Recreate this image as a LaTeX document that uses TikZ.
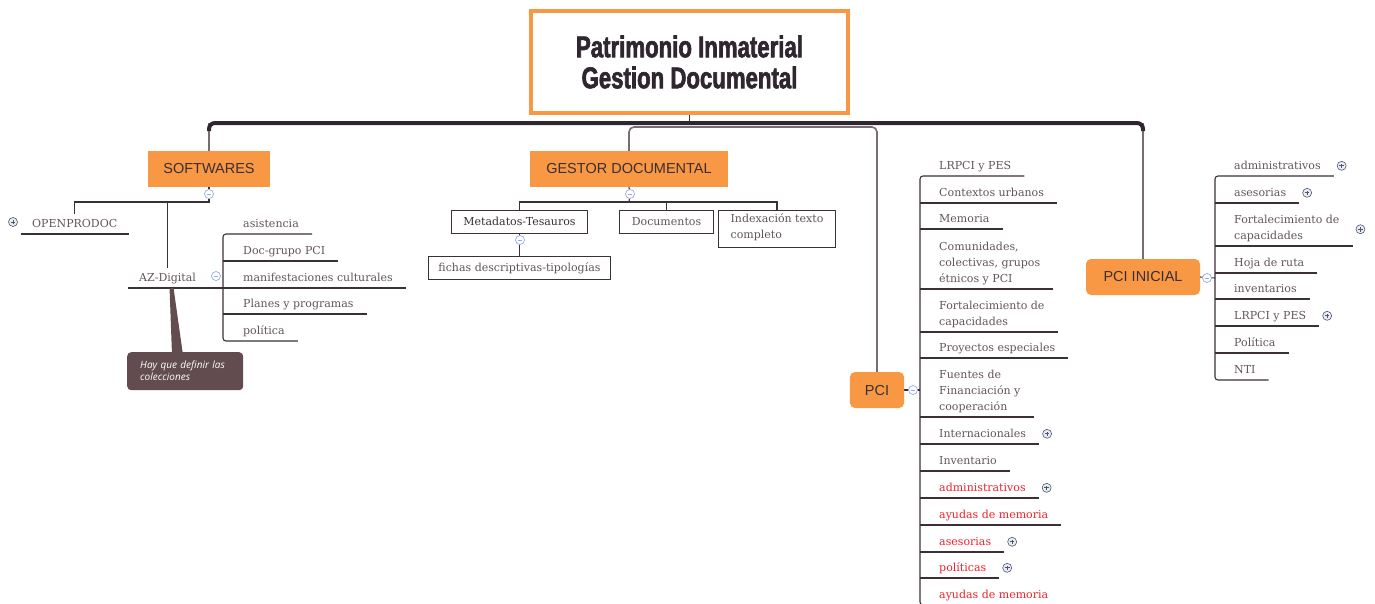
\documentclass[tikz,border=0pt]{standalone}
\usepackage{fontspec}
\setmainfont{DejaVu Serif}
\newfontfamily\boxfont{Liberation Sans}
\newfontfamily\titlefont{Liberation Sans}[FakeStretch=0.74, FakeBold=2]
\newfontfamily\notefont{Open Sans}
\usetikzlibrary{positioning, backgrounds}

\definecolor{boxOrange}{RGB}{248,152,68}
\definecolor{boxText}{RGB}{58,46,52}
\definecolor{itemGray}{RGB}{98,84,90}
\definecolor{alertRed}{RGB}{238,34,40}
\definecolor{lineDark}{RGB}{58,48,53}
\definecolor{lineGray}{RGB}{118,108,114}
\definecolor{trunkDark}{RGB}{47,38,48}
\definecolor{iconBlue}{RGB}{150,172,222}
\definecolor{iconGray}{RGB}{80,86,104}
\definecolor{iconFill}{RGB}{232,236,244}
\definecolor{noteBrown}{RGB}{98,76,80}

\begin{document}
\begin{tikzpicture}[
    x=1pt, y=-1pt,
    titleBox/.style={draw=boxOrange, line width=4pt, fill=white, minimum width=317pt, minimum height=102pt, align=center, text=trunkDark, font=\titlefont\bfseries\fontsize{30}{31}\selectfont}, % 中心主题
    orangeBox/.style={fill=boxOrange, text=boxText, inner xsep=15pt, minimum height=36pt, font=\boxfont\fontsize{14.5}{17}\selectfont}, % 一级分支
    roundBox/.style={orangeBox, rounded corners=5pt},
    topicItem/.style={anchor=south west, inner xsep=0pt, inner ysep=2pt, align=left, text=itemGray, font=\fontsize{11}{16}\selectfont, execute at end node=\strut}, % 带下划线的子主题
    redItem/.style={topicItem, text=alertRed},
    frameItem/.style={draw=lineDark, line width=1.1pt, fill=white, text=itemGray, inner xsep=12pt, inner ysep=3.5pt, align=left, font=\fontsize{11}{16}\selectfont, execute at begin node=\strut, execute at end node=\strut}, % 带边框的子主题
    trunk/.style={draw=trunkDark, line width=4pt, rounded corners=6pt},
    stem/.style={draw=lineGray, line width=1.6pt},
    branch/.style={draw=lineDark, line width=1.1pt},
    minusIcon/.style={circle, draw=iconBlue, fill=white, line width=0.7pt, minimum size=9pt, inner sep=0pt,
        path picture={\draw[iconBlue, line width=0.8pt] ([xshift=-2.3pt]path picture bounding box.center) -- ([xshift=2.3pt]path picture bounding box.center);}},
    plusIcon/.style={circle, draw=iconGray, fill=iconFill, line width=0.6pt, minimum size=9pt, inner sep=0pt,
        path picture={\draw[iconGray, line width=0.7pt] ([xshift=-2.3pt]path picture bounding box.center) -- ([xshift=2.3pt]path picture bounding box.center)
            ([yshift=-2.3pt]path picture bounding box.center) -- ([yshift=2.3pt]path picture bounding box.center);}},
    noteBox/.style={fill=noteBrown, rounded corners=4pt, text=white, text width=90pt, inner xsep=13pt, minimum height=38pt, align=left, font=\notefont\itshape\fontsize{10}{12}\selectfont},
]
    \useasboundingbox (0,0) rectangle (1375,603);
    \clip (0,0) rectangle (1375,603);

    % 1. 中心主题与一级分支
    \node[titleBox] (title) at (689.5,62) {Patrimonio Inmaterial\\Gestion Documental};
    \node[orangeBox] (softwares) at (209,169) {SOFTWARES};
    \node[orangeBox, inner xsep=16.5pt] (gestor) at (629,169) {GESTOR DOCUMENTAL};
    \node[roundBox] (pci) at (877,390) {PCI};
    \node[roundBox, minimum width=114pt] (pciInicial) at (1143,277) {PCI INICIAL};
    \coordinate (trunkY) at (689,123);
    \coordinate (trunkEnd) at (689,131);
    \coordinate (innerY) at (629,127);

    % 2. SOFTWARES 分支
    \node[minusIcon] (swMinus) at (209,194) {};
    \coordinate (swBar) at (209,202);
    \node[topicItem] (openprodoc) at (32,234) {OPENPRODOC};
    \node[plusIcon] (opPlus) at (13,222) {};
    \node[topicItem] (azDigital) at (139,288) {AZ-Digital};
    \node[minusIcon] (azMinus) at (216,276) {};
    \node[topicItem] (asistencia) at (243,234) {asistencia};
    \node[topicItem] (docGrupo) at (243,261) {Doc-grupo PCI};
    \node[topicItem] (manifestaciones) at (243,288) {manifestaciones culturales};
    \node[topicItem] (planes) at (243,314) {Planes y programas};
    \node[topicItem] (politica) at (243,341) {política};
    \node[noteBox, anchor=north west] (note) at (127,352) {Hay que definir las\\colecciones};
    \fill[noteBrown] ([xshift=2pt]azDigital.south) -- ([xshift=6pt]azDigital.south) -- ([xshift=56pt,yshift=-3pt]note.north west) -- ([xshift=45pt,yshift=-3pt]note.north west) -- cycle;

    % 3. GESTOR DOCUMENTAL 分支
    \node[minusIcon] (gdMinus) at (630,194) {};
    \coordinate (gdBar) at (629,202);
    \node[frameItem, text=boxText, anchor=north] (metadatos) at (519.5,210) {Metadatos-Tesauros};
    \node[frameItem, anchor=north] (documentos) at (666.5,210) {Documentos};
    \node[frameItem, anchor=north] (indexacion) at (777,210) {Indexación texto\\completo};
    \node[frameItem, inner xsep=10pt, anchor=north] (fichas) at (519.5,256) {fichas descriptivas-tipologías};
    \node[minusIcon] (mtMinus) at (520,240) {};

    % 4. PCI 分支
    \node[minusIcon] (pciMinus) at (913,390) {};
    \coordinate (pciBar) at (920,390);
    \node[topicItem] (lrpci) at (939,176) {LRPCI y PES};
    \node[topicItem] (contextos) at (939,203) {Contextos urbanos};
    \node[topicItem] (memoria) at (939,229) {Memoria};
    \node[topicItem] (comunidades) at (939,289) {Comunidades,\\colectivas, grupos\\étnicos y PCI};
    \node[topicItem] (fortalecimiento) at (939,332) {Fortalecimiento de\\capacidades};
    \node[topicItem] (proyectos) at (939,358) {Proyectos especiales};
    \node[topicItem] (fuentes) at (939,417) {Fuentes de\\Financiación y\\cooperación};
    \node[topicItem] (internacionales) at (939,444) {Internacionales};
    \node[topicItem] (inventario) at (939,471) {Inventario};
    \node[redItem] (administrativos) at (939,498) {administrativos};
    \node[redItem] (ayudas) at (939,525) {ayudas de memoria};
    \node[redItem] (asesorias) at (939,552) {asesorias};
    \node[redItem] (politicas) at (939,578) {políticas};
    \node[redItem] (ayudasBis) at (939,605) {ayudas de memoria};
    \node[plusIcon, right=16pt of internacionales] (intPlus) {};
    \node[plusIcon, right=16pt of administrativos] (admPlus) {};
    \node[plusIcon, right=16pt of asesorias] (asePlus) {};
    \node[plusIcon, right=16pt of politicas] (polPlus) {};

    % 5. PCI INICIAL 分支
    \node[minusIcon] (iniMinus) at (1207,278) {};
    \coordinate (iniBar) at (1215,278);
    \node[topicItem] (iniAdmin) at (1234,176) {administrativos};
    \node[topicItem] (iniAsesorias) at (1234,203) {asesorias};
    \node[topicItem] (iniFortalecimiento) at (1234,246) {Fortalecimiento de\\capacidades};
    \node[topicItem] (hojaRuta) at (1234,273) {Hoja de ruta};
    \node[topicItem] (inventarios) at (1234,299) {inventarios};
    \node[topicItem] (iniLrpci) at (1234,326) {LRPCI y PES};
    \node[topicItem] (iniPolitica) at (1234,353) {Política};
    \node[topicItem] (nti) at (1234,380) {NTI};
    \node[plusIcon, right=16pt of iniAdmin] (iniAdmPlus) {};
    \node[plusIcon, right=16pt of iniAsesorias] (iniAsePlus) {};
    \node[plusIcon, right=16pt of iniFortalecimiento] (iniFortPlus) {};
    \node[plusIcon, right=16pt of iniLrpci] (iniLrpciPlus) {};

    % 6. 背景层连线
    \begin{scope}[on background layer]
        \draw[branch, line width=0.8pt] (title.south) -- (title.south |- trunkY);
        \draw[stem] (softwares.north) -- (softwares.north |- trunkY);
        \draw[stem] (pciInicial.north) -- (pciInicial.north |- trunkY);
        \draw[stem, rounded corners=5pt] (gestor.north) -- (innerY) -- (pci.north |- innerY) -- (pci.north);
        \draw[trunk] (softwares.north |- trunkEnd) -- (softwares.north |- trunkY) -- (pciInicial.north |- trunkY) -- (pciInicial.north |- trunkEnd);

        \draw[branch] (softwares.south) -- (swMinus) -- (swBar) -| (openprodoc.north);
        \draw[branch] (azDigital.north) -- (azDigital.north |- swBar);
        \draw[branch] ([xshift=-11pt]openprodoc.south west) -- ([xshift=12pt]openprodoc.south east);
        \draw[branch] ([xshift=-11pt]azDigital.south west) -- ([xshift=13pt]manifestaciones.south east);
        \draw[branch, rounded corners=3pt] ([xshift=13pt]asistencia.south east) -- ([xshift=-20pt]asistencia.south west) -- ([xshift=-20pt]politica.south west) -- ([xshift=13pt]politica.south east);
        \draw[branch] ([xshift=-20pt]docGrupo.south west) -- ([xshift=13pt]docGrupo.south east);
        \draw[branch] ([xshift=-20pt]planes.south west) -- ([xshift=13pt]planes.south east);

        \draw[branch] (gestor.south) -- (gdMinus) -- (gdBar);
        \draw[branch] (metadatos.north) |- (gdBar) -| (indexacion.north);
        \draw[branch] (documentos.north) -- (documentos.north |- gdBar);
        \draw[branch] (metadatos.south) -- (fichas.north);

        \draw[branch] (pci.east) -- (pciBar);
        \draw[branch, rounded corners=3pt] ([xshift=13pt]lrpci.south east) -- ([xshift=-19pt]lrpci.south west) -- ([xshift=-19pt]ayudasBis.south west) -- ([xshift=13pt]ayudasBis.south east);
        \foreach \item in {contextos, memoria, comunidades, fortalecimiento, proyectos, fuentes, internacionales, inventario, administrativos, ayudas, asesorias, politicas}
            \draw[branch] ([xshift=-19pt]\item.south west) -- ([xshift=13pt]\item.south east);

        \draw[branch] (pciInicial.east) -- (iniBar);
        \draw[branch, rounded corners=3pt] ([xshift=13pt]iniAdmin.south east) -- ([xshift=-19pt]iniAdmin.south west) -- ([xshift=-19pt]nti.south west) -- ([xshift=13pt]nti.south east);
        \foreach \item in {iniAsesorias, iniFortalecimiento, hojaRuta, inventarios, iniLrpci, iniPolitica}
            \draw[branch] ([xshift=-19pt]\item.south west) -- ([xshift=13pt]\item.south east);
    \end{scope}
\end{tikzpicture}
\end{document}
